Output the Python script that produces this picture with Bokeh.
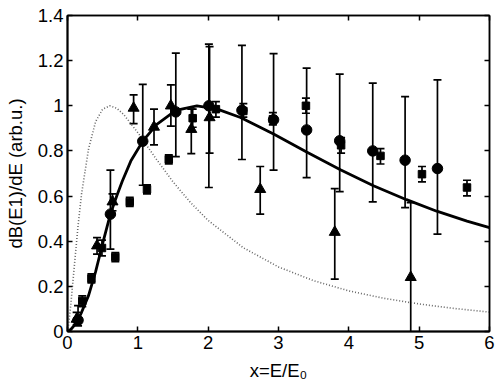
from bokeh.plotting import figure
from bokeh.models import (ColumnDataSource, Whisker, TeeHead, LinearAxis, FixedTicker,
                          CustomLabelingPolicy)
from bokeh.embed import file_html
from bokeh.resources import INLINE

# ---- data ----
circ_x = [0.15, 0.61, 1.07, 1.54, 2.01, 2.48, 2.93, 3.40, 3.87, 4.34, 4.80, 5.26]
circ_y = [0.05, 0.52, 0.843, 0.973, 1.0, 0.98, 0.938, 0.893, 0.845, 0.80, 0.759, 0.722]
circ_lo = [0.025, 0.365, 0.648, 0.775, 0.638, 0.762, 0.715, 0.682, 0.62, 0.574, 0.549, 0.431]
circ_hi = [0.115, 0.715, 1.095, 1.233, 1.273, 1.268, 1.231, 1.167, 1.140, 1.10, 1.041, 1.115]

tri_x = [0.13, 0.42, 0.64, 0.94, 1.23, 1.47, 1.76, 2.02, 2.74, 3.80, 4.88]
tri_y = [0.055, 0.38, 0.575, 0.99, 0.906, 1.0, 0.896, 0.948, 0.63, 0.44, 0.24]
tri_lo = [0.03, 0.343, 0.535, 0.921, 0.827, 0.91, 0.788, 0.79, 0.52, 0.232, -0.04]
tri_hi = [0.085, 0.416, 0.61, 1.048, 0.985, 1.093, 0.985, 1.262, 0.731, 0.633, 0.571]

sq_x = [0.21, 0.34, 0.49, 0.68, 0.885, 1.13, 1.44, 1.78, 2.11, 2.50, 2.92, 3.39, 3.89, 4.45, 5.04, 5.68]
sq_y = [0.135, 0.235, 0.37, 0.33, 0.574, 0.63, 0.763, 0.945, 0.985, 0.977, 0.94, 1.0, 0.825, 0.778, 0.697, 0.638]
sq_lo = [0.11, 0.215, 0.335, 0.31, 0.554, 0.61, 0.743, 0.905, 0.95, 0.95, 0.915, 0.967, 0.79, 0.742, 0.663, 0.601]
sq_hi = [0.158, 0.255, 0.405, 0.35, 0.594, 0.65, 0.783, 0.985, 1.018, 1.01, 0.97, 1.034, 0.859, 0.81, 0.731, 0.67]

solid_x = [0, 0.05, 0.1, 0.14, 0.2, 0.3, 0.4, 0.5, 0.61, 0.7, 0.78, 0.9, 1.07, 1.27, 1.54, 1.84, 2.13, 2.46, 2.93, 3.40, 3.88, 4.35, 4.82, 5.25, 5.68, 6.0]
solid_y = [0, 0.01, 0.028, 0.047, 0.085, 0.16, 0.265, 0.39, 0.52, 0.60, 0.667, 0.755, 0.843, 0.918, 0.98, 1.0, 0.985, 0.948, 0.875, 0.795, 0.717, 0.646, 0.584, 0.533, 0.489, 0.46]

dot_x = [0, 0.02, 0.05, 0.1, 0.15, 0.2, 0.3, 0.4, 0.5, 0.6, 0.7, 0.8, 1.0, 1.25, 1.5, 1.75, 2.0, 2.5, 3.0, 3.5, 4.0, 4.5, 5.0, 5.5, 6.0]
dot_y = [0, 0.04, 0.13, 0.30, 0.468, 0.61, 0.81, 0.93, 0.985, 1.0, 0.989, 0.961, 0.881, 0.769, 0.663, 0.571, 0.492, 0.371, 0.286, 0.225, 0.18, 0.147, 0.122, 0.102, 0.086]

x_ticks = [0, 1, 2, 3, 4, 5, 6]
y_ticks = [0, 0.2, 0.4, 0.6, 0.8, 1.0, 1.2, 1.4]
y_labels = ["0", "0.2", "0.4", "0.6", "0.8", "1", "1.2", "1.4"]

FONT = "Liberation Sans"
FS = "18.5px"

p = figure(frame_width=422, frame_height=316, x_range=(0, 6), y_range=(0, 1.4),
           output_backend="svg", toolbar_location=None,
           min_border_left=67, min_border_top=15, min_border_right=9, min_border_bottom=59)
p.background_fill_color = "white"
p.border_fill_color = "white"
p.outline_line_color = "black"
p.outline_line_width = 1.5
p.xgrid.visible = False
p.ygrid.visible = False

# curves
p.line(dot_x, dot_y, line_color="#666666", line_width=1.6, line_dash="1 2")
p.line(solid_x, solid_y, line_color="black", line_width=2.8)

def add_series(xs, ys, lo, hi, marker, size):
    src = ColumnDataSource(dict(x=xs, y=ys, lo=lo, hi=hi))
    w = Whisker(source=src, base="x", lower="lo", upper="hi", dimension="height",
                line_color="black", line_width=1.7,
                upper_head=TeeHead(size=8, line_color="black", line_width=1.7),
                lower_head=TeeHead(size=8, line_color="black", line_width=1.7))
    p.add_layout(w)
    p.scatter("x", "y", source=src, marker=marker, size=size,
              fill_color="black", line_color="black")

add_series(sq_x, sq_y, sq_lo, sq_hi, "square", 7.5)
add_series(circ_x, circ_y, circ_lo, circ_hi, "circle", 10.5)
add_series(tri_x, tri_y, tri_lo, tri_hi, "triangle", 11)

# axes styling
for ax in (p.xaxis[0], p.yaxis[0]):
    ax.axis_line_width = 2
    ax.major_tick_in = 5
    ax.major_tick_out = 0
    ax.minor_tick_in = 0
    ax.minor_tick_out = 0
    ax.major_tick_line_width = 1.5
    ax.major_label_text_font = FONT
    ax.major_label_text_font_size = FS
    ax.major_label_text_color = "black"
    ax.axis_label_text_font = FONT
    ax.axis_label_text_font_size = FS
    ax.axis_label_text_font_style = "normal"
    ax.axis_label_text_color = "black"

p.xaxis[0].ticker = FixedTicker(ticks=x_ticks)
p.yaxis[0].ticker = FixedTicker(ticks=y_ticks)
p.yaxis[0].major_label_overrides = {t: l for t, l in zip(y_ticks, y_labels)}
p.xaxis[0].axis_label = "x=E/E₀"
p.yaxis[0].axis_label = "dB(E1)/dE (arb.u.)"
p.xaxis[0].major_label_standoff = 4
p.yaxis[0].major_label_standoff = 4
p.xaxis[0].axis_label_standoff = 8
p.yaxis[0].axis_label_standoff = 9

no_labels = "return new Set()"
top = LinearAxis(ticker=FixedTicker(ticks=x_ticks),
                 major_label_policy=CustomLabelingPolicy(code=no_labels),
                 major_tick_in=5, major_tick_out=0, minor_tick_in=0, minor_tick_out=0,
                 axis_line_width=1.5, major_tick_line_width=1.5, major_label_standoff=0)
right = LinearAxis(ticker=FixedTicker(ticks=y_ticks),
                   major_label_policy=CustomLabelingPolicy(code=no_labels),
                   major_tick_in=5, major_tick_out=0, minor_tick_in=0, minor_tick_out=0,
                   axis_line_width=1.5, major_tick_line_width=1.5, major_label_standoff=0)
p.add_layout(top, "above")
p.add_layout(right, "right")

open("out.html", "w").write(file_html(p, INLINE))
